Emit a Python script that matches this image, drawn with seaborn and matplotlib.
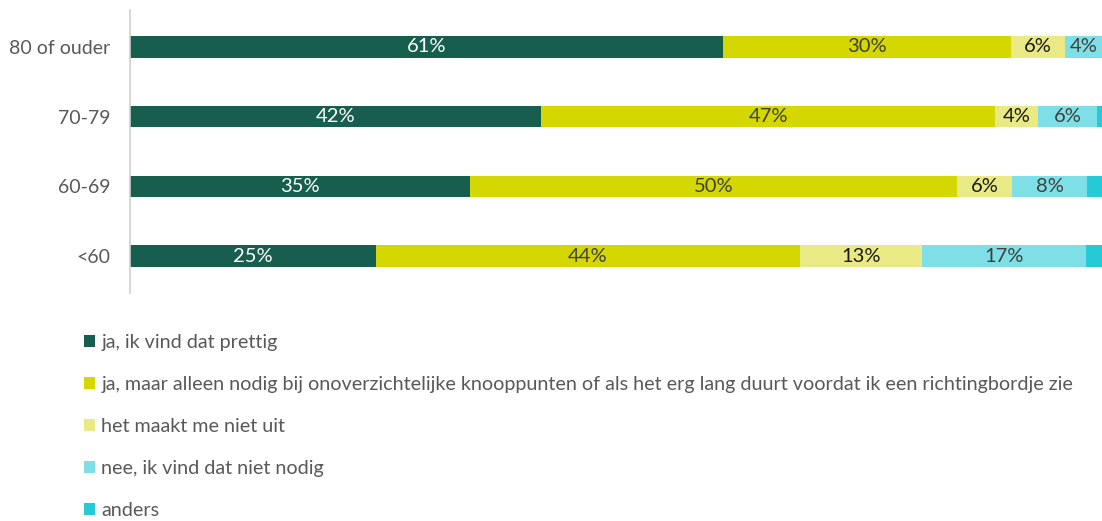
import numpy as np
import pandas as pd
import matplotlib
matplotlib.use("Agg")
import matplotlib.pyplot as plt
import seaborn as sns
from matplotlib.patches import Patch

categories = ["80 of ouder", "70-79", "60-69", "<60"]
series_names = [
    "ja, ik vind dat prettig",
    "ja, maar alleen nodig bij onoverzichtelijke knooppunten of als het erg lang duurt voordat ik een richtingbordje zie",
    "het maakt me niet uit",
    "nee, ik vind dat niet nodig",
    "anders",
]
ja_prettig = [61.0, 42.3, 35.0, 25.3]
ja_alleen = [29.6, 46.7, 50.1, 43.6]
maakt_niet_uit = [5.6, 4.4, 5.6, 12.6]
nee_niet_nodig = [3.8, 6.1, 7.8, 16.9]
anders = [0.0, 0.5, 1.5, 1.6]

colors = ["#175E4F", "#D4D700", "#E9E985", "#7EE0E6", "#25CAD6"]
label_colors = ["white", "#404040", "#1a1a1a", "#404040", None]

sns.set_theme(style="white")
plt.rcParams["font.family"] = ["Lato", "DejaVu Sans"]

series = [ja_prettig, ja_alleen, maakt_niet_uit, nee_niet_nodig, anders]
df = pd.DataFrame({"cat": categories})
for name, vals in zip(series_names, series):
    df[name] = vals
cum = df[series_names].cumsum(axis=1)

fig = plt.figure(figsize=(11.02, 5.21), dpi=100)
ax = fig.add_axes([130 / 1102, 1 - 293 / 521, 972 / 1102, 283 / 521])

for i in range(len(series_names) - 1, -1, -1):
    sns.barplot(x=cum[series_names[i]], y=df["cat"], orient="h", color=colors[i],
                width=0.31, ax=ax, saturation=1, edgecolor="none", linewidth=0)

for i, name in enumerate(series_names):
    if label_colors[i] is None:
        continue
    for j in range(len(categories)):
        v = df[name][j]
        start = cum[name][j] - v
        ax.text(start + v / 2, j, f"{round(v):d}%", ha="center", va="center",
                color=label_colors[i], fontsize=14.5)

ax.set_xlim(0, 100)
ax.set_ylim(3.53, -0.53)
ax.set_xlabel("")
ax.set_ylabel("")
ax.set_xticks([])
for s in ["top", "right", "bottom"]:
    ax.spines[s].set_visible(False)
ax.spines["left"].set_color("#D0D0D0")
ax.spines["left"].set_linewidth(1.2)
ax.tick_params(axis="y", length=0, pad=14, labelsize=14, labelcolor="#595959")

handles = [Patch(facecolor=c, edgecolor="none") for c in colors]
fig.legend(handles, series_names, loc="upper left", bbox_to_anchor=(74 / 1102, 1 - 324 / 521),
           frameon=False, fontsize=14.2, labelcolor="#595959", handlelength=0.58,
           handleheight=0.58, handletextpad=0.3, labelspacing=1.27, borderpad=0)

fig.savefig("out.png", dpi=100)
